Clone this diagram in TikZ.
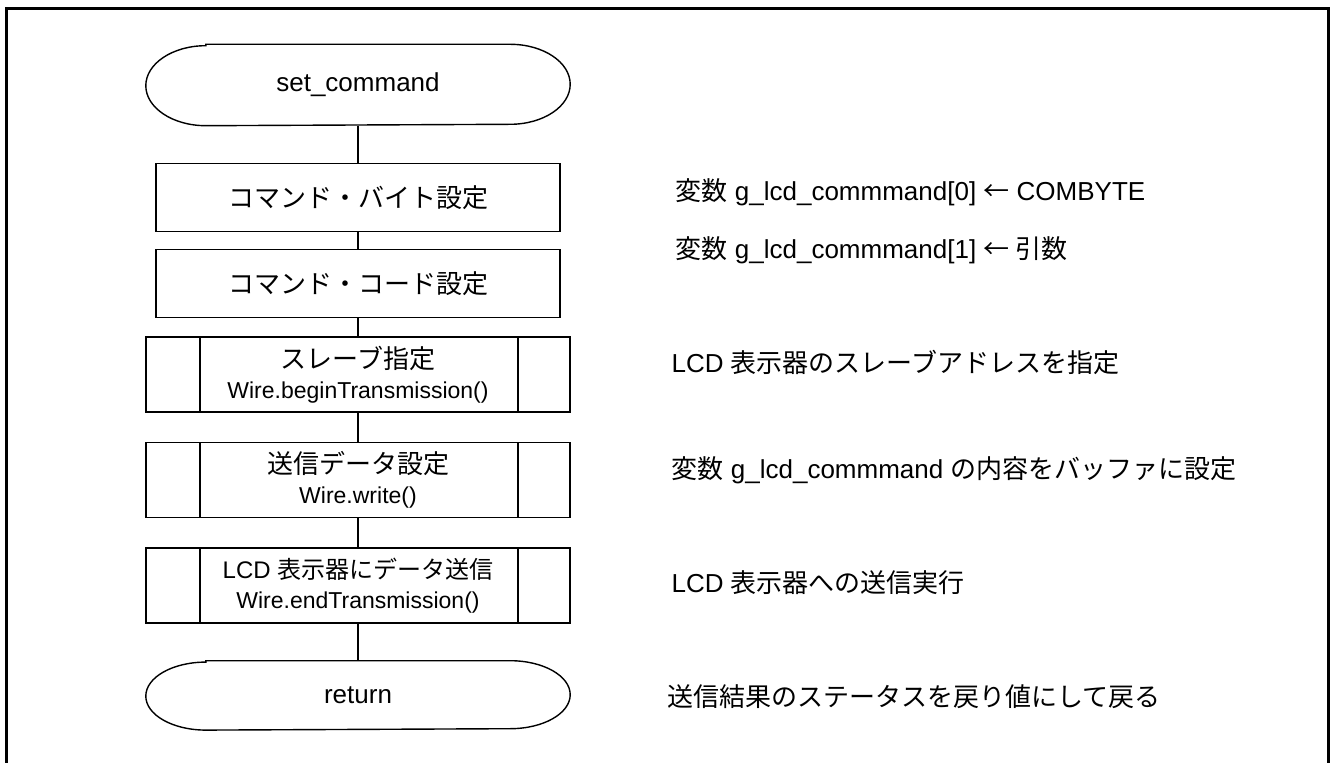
\documentclass[tikz,border=0pt]{standalone}
\usepackage{fontspec}
\setmainfont{Liberation Sans}
\newfontfamily\jp{Noto Sans CJK JP}
\usetikzlibrary{positioning}

\begin{document}
\begin{tikzpicture}[x=0.5pt, y=-0.5pt, line width=0.7pt,
  term/.style = {minimum width=211.5pt, inner sep=0pt, font=\fontsize{13}{15}\selectfont},
  proc/.style = {draw, minimum width=202pt, minimum height=34pt, inner sep=0pt, font=\fontsize{13}{15}\selectfont},
  sub/.style = {draw, minimum width=212pt, minimum height=37.5pt, inner sep=0pt, align=center,
    font=\fontsize{13}{15}\selectfont,
    path picture={\draw ([xshift=27pt]path picture bounding box.north west) -- ([xshift=27pt]path picture bounding box.south west)
      ([xshift=-26pt]path picture bounding box.north east) -- ([xshift=-26pt]path picture bounding box.south east);}},
  note/.style = {anchor=west, inner sep=0pt, font=\fontsize{13}{15}\selectfont},
  outerframe/.style = {line width=1.5pt}]
\useasboundingbox (0,0) rectangle (1332,763);
\draw[outerframe] (6.5,763) -- (6.5,8.5) -- (1328,8.5) -- (1328,763);

% flow
\node[term, minimum height=40pt] (start) at (358,85) {set\_command};
\node[proc] (bytes) [below=18.5pt of start] {\jp コマンド・バイト設定};
\node[proc] (code) [below=8.5pt of bytes] {\jp コマンド・コード設定};
\node[sub] (slave) [below=9pt of code] {{\jp スレーブ指定}\\{\fontsize{11.5}{13}\selectfont Wire.beginTransmission()}};
\node[sub] (write) [below=14.5pt of slave] {{\jp 送信データ設定}\\{\fontsize{11.5}{13}\selectfont Wire.write()}};
\node[sub] (send) [below=14.5pt of write] {{\fontsize{12}{15}\selectfont LCD {\jp 表示器にデータ送信}}\\{\fontsize{11.5}{13}\selectfont Wire.endTransmission()}};
\node[term, minimum height=34pt] (ret) [below=18.5pt of send] {return};

\draw ([xshift=30pt]start.north west) -- ([xshift=-30pt]start.north east)
  arc[start angle=90, end angle=-90, x radius=30pt, y radius=20pt]
  -- ([xshift=30pt]start.south west)
  arc[start angle=270, end angle=90, x radius=30pt, y radius=20pt] -- cycle;
\draw ([xshift=30pt]ret.north west) -- ([xshift=-30pt]ret.north east)
  arc[start angle=90, end angle=-90, x radius=30pt, y radius=17pt]
  -- ([xshift=30pt]ret.south west)
  arc[start angle=270, end angle=90, x radius=30pt, y radius=17pt] -- cycle;

\draw (start) -- (bytes);
\draw (bytes) -- (code);
\draw (code) -- (slave);
\draw (slave) -- (write);
\draw (write) -- (send);
\draw (send) -- (ret);

% comments
\node[note] (n1) at (675,192) {{\jp 変数} g\_lcd\_commmand[0] {\jp ←} COMBYTE};
\node[note] (n2) at (675,250) {{\jp 変数} g\_lcd\_commmand[1] {\jp ← 引数}};
\node[note] (n3) at (671,362) {LCD {\jp 表示器のスレーブアドレスを指定}};
\node[note] (n4) at (671,470) {{\jp 変数} g\_lcd\_commmand {\jp の内容をバッファに設定}};
\node[note] (n5) at (671,583) {LCD {\jp 表示器への送信実行}};
\node[note] (n6) at (667,697) {\jp 送信結果のステータスを戻り値にして戻る};
\end{tikzpicture}
\end{document}
